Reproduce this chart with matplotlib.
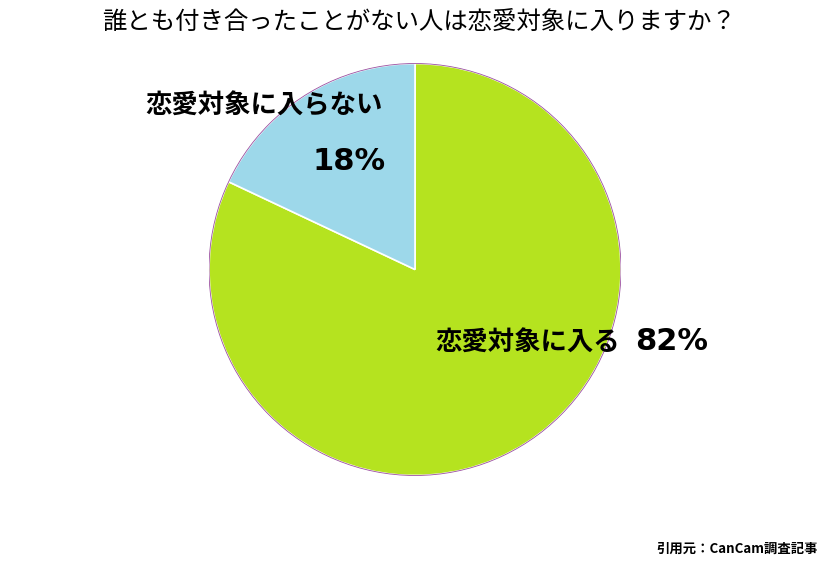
import matplotlib
matplotlib.use('Agg')
import matplotlib.pyplot as plt
from matplotlib.patches import Circle

plt.rcParams['font.family'] = ['Noto Sans CJK JP', 'DejaVu Sans']

# データ
labels = ['恋愛対象に入る', '恋愛対象に入らない']
values = [82, 18]
colors = ['#b5e31f', '#9dd8ea']

title = '誰とも付き合ったことがない人は恋愛対象に入りますか？'
source = '引用元：CanCam調査記事'

W, H = 832, 568
fig = plt.figure(figsize=(W / 100, H / 100), dpi=100)

# 円の位置（ピクセル）
cx, cy, r = 415, 269.5, 206
ax = fig.add_axes([(cx - r) / W, (H - cy - r) / H, 2 * r / W, 2 * r / H])
ax.pie(values, colors=colors, startangle=90, counterclock=False,
       wedgeprops=dict(edgecolor='white', linewidth=1.2))
ax.add_patch(Circle((0, 0), 1, fill=False, edgecolor='#9b4fa0', linewidth=0.6))
ax.set_xlim(-1, 1)
ax.set_ylim(-1, 1)
ax.set_aspect('equal')
ax.axis('off')

def px(x, y):
    return x / W, 1 - y / H

fig.text(*px(419, 23), title, ha='center', va='center', fontsize=17.6)

# 数字は幅の広いフォントで
num_font = dict(family='DejaVu Sans', fontweight='bold', fontsize=22)

fig.text(*px(145, 106), labels[1], ha='left', va='center', fontsize=19, fontweight='bold')
fig.text(*px(386, 161), f'{values[1]}%', ha='right', va='center', **num_font)

fig.text(*px(435, 343), labels[0], ha='left', va='center', fontsize=19, fontweight='bold')
fig.text(*px(708, 342), f'{values[0]}%', ha='right', va='center', **num_font)

fig.text(*px(818, 549), source, ha='right', va='center', fontsize=9.6, fontweight='bold')

plt.savefig('out.png', dpi=100)
